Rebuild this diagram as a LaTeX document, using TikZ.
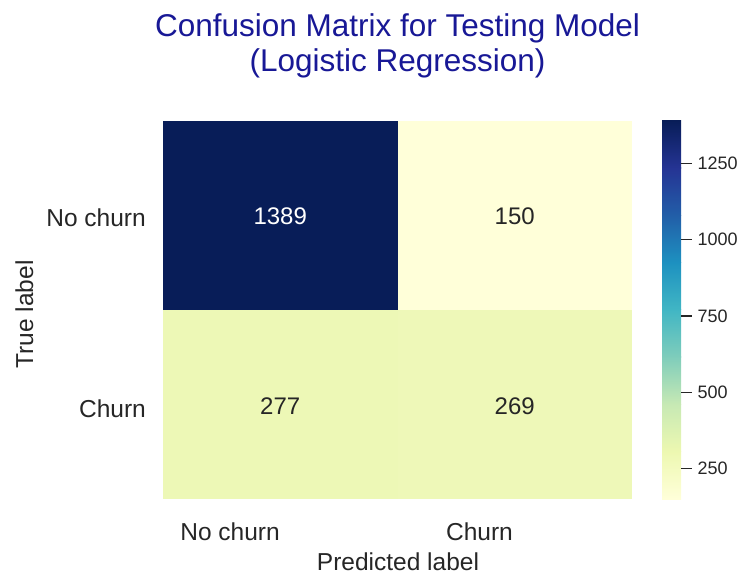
\documentclass[tikz,border=0pt]{standalone}
\usepackage{fontspec}
\setmainfont{Liberation Sans}
\usetikzlibrary{positioning}

% YlGnBu colour stops
\definecolor{yg0}{HTML}{FFFFD9}
\definecolor{yg1}{HTML}{EDF8B1}
\definecolor{yg2}{HTML}{C7E9B4}
\definecolor{yg3}{HTML}{7FCDBB}
\definecolor{yg4}{HTML}{41B6C4}
\definecolor{yg5}{HTML}{1D91C0}
\definecolor{yg6}{HTML}{225EA8}
\definecolor{yg7}{HTML}{253494}
\definecolor{yg8}{HTML}{081D58}
\definecolor{titleblue}{RGB}{24,24,150}
\definecolor{labelgray}{HTML}{262626}
\definecolor{cellfn}{HTML}{EDF8B6}
\definecolor{celltp}{HTML}{EEF8B8}

\tikzset{
  plottitle/.style={font=\fontsize{31.5}{36}\selectfont, text=titleblue, anchor=base, inner sep=0pt},
  ticklabel/.style={font=\fontsize{24.5}{28}\selectfont, text=labelgray, inner sep=0pt},
  cellnum/.style={font=\fontsize{24}{28}\selectfont, text=labelgray, anchor=base, inner sep=0pt},
  cbarlabel/.style={font=\fontsize{18}{20}\selectfont, text=labelgray, inner sep=0pt}
}

\begin{document}
\begin{tikzpicture}[x=1pt, y=1pt]
    \useasboundingbox (0,0) rectangle (740,574);

    % Title
    \node[plottitle] (title1) at (397.5,537) {Confusion Matrix for Testing Model};
    \node[plottitle] (title2) at (397.5,502) {(Logistic Regression)};

    % Heatmap cells
    \fill[yg8] (163,264) rectangle (397.5,453);
    \fill[yg0] (397.5,264) rectangle (632,453);
    \fill[cellfn] (163,75) rectangle (397.5,264);
    \fill[celltp] (397.5,75) rectangle (632,264);

    % Cell values
    \node[cellnum, text=white] (tn) at (280.25,349) {1389};
    \node[cellnum] (fp) at (514.75,349) {150};
    \node[cellnum] (fn) at (280.25,159) {277};
    \node[cellnum] (tp) at (514.75,159) {269};

    % Axis labels
    \node[ticklabel, anchor=base east] (ynochurn) at (146,347) {No churn};
    \node[ticklabel, anchor=base east] (ychurn) at (146,157) {Churn};
    \node[ticklabel, anchor=base east] (xnochurn) at (280,34) {No churn};
    \node[ticklabel, anchor=base east] (xchurn) at (513,34) {Churn};
    \node[ticklabel, anchor=base, rotate=90] (ylab) at (33,259.5) {True label};
    \node[ticklabel, anchor=base] (xlab) at (398,4) {Predicted label};

    % Colour bar
    \foreach \i [evaluate=\i as \j using int(\i+1)] in {0,...,7}
        \shade[bottom color=yg\i, top color=yg\j] (662,{75+\i*47.25}) rectangle (681,{75+(\i+1)*47.25+0.3});
    \foreach \v in {250,500,750,1000,1250}
        \draw[labelgray, line width=1.2pt] (681,{75+(\v-150)/1239*378}) -- ++(11,0)
            node[cbarlabel, right=5pt] (cb\v) {\v};
\end{tikzpicture}
\end{document}
